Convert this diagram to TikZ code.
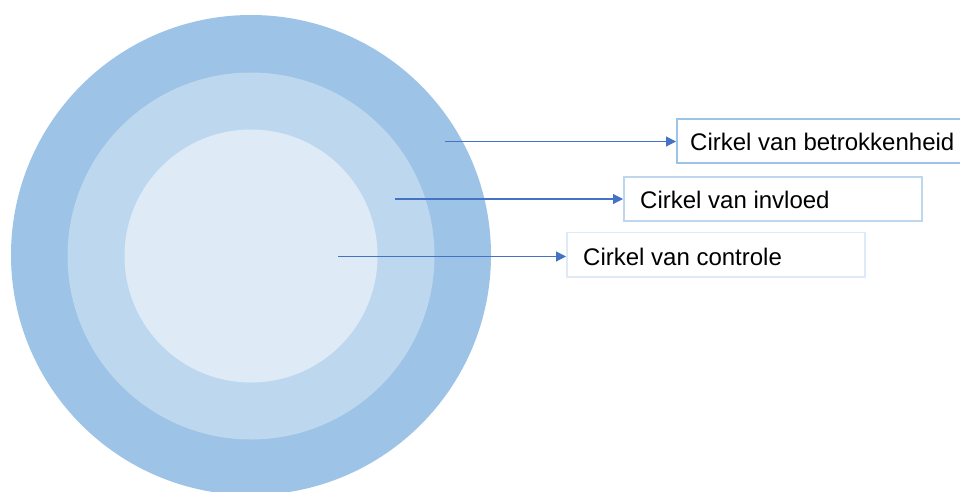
\documentclass[tikz,border=0pt]{standalone}
\usepackage{fontspec}
\setmainfont{Liberation Sans}
\usetikzlibrary{arrows.meta}
\definecolor{ringA}{HTML}{9DC3E6}
\definecolor{ringB}{HTML}{BDD7EE}
\definecolor{ringC}{HTML}{DEEBF7}
\definecolor{arrowblue}{HTML}{4472C4}
\tikzset{
  pointer/.style={draw=arrowblue, line width=1.1pt, -{Triangle[length=10pt,width=10pt]}},
  labeltext/.style={anchor=west, font=\fontsize{24}{28}\selectfont, inner sep=0pt}
}
\begin{document}
\begin{tikzpicture}[x=1pt,y=-1pt]
\useasboundingbox (0,0) rectangle (960,491);
\clip (0,0) rectangle (960,491);
\fill[ringA] (251,255) circle[radius=240];
\fill[ringB] (251,256) circle[radius=183.5];
\fill[ringC] (251,256) circle[radius=126.5];
% boxes
\draw[ringA, line width=1.6pt, fill=white] (677,119) rectangle (975,163);
\draw[ringB, line width=1.6pt, fill=white] (624,177) rectangle (922,221);
\draw[ringC, line width=1.6pt, fill=white] (567,232.5) rectangle (865,277);
\coordinate (b1) at (676,141.5);
\coordinate (b2) at (623,199);
\coordinate (b3) at (566,256.5);
\coordinate (s1) at (445,141.5);
\coordinate (s2) at (395,199);
\coordinate (s3) at (338,256.5);
\node[labeltext] (t1) at (690,142) {Cirkel van betrokkenheid};
\node[labeltext] (t2) at (640,199.5) {Cirkel van invloed};
\node[labeltext] (t3) at (583,257) {Cirkel van controle};
\draw[pointer] (s1) -- (b1);
\draw[pointer] (s2) -- (b2);
\draw[pointer] (s3) -- (b3);
\end{tikzpicture}
\end{document}
